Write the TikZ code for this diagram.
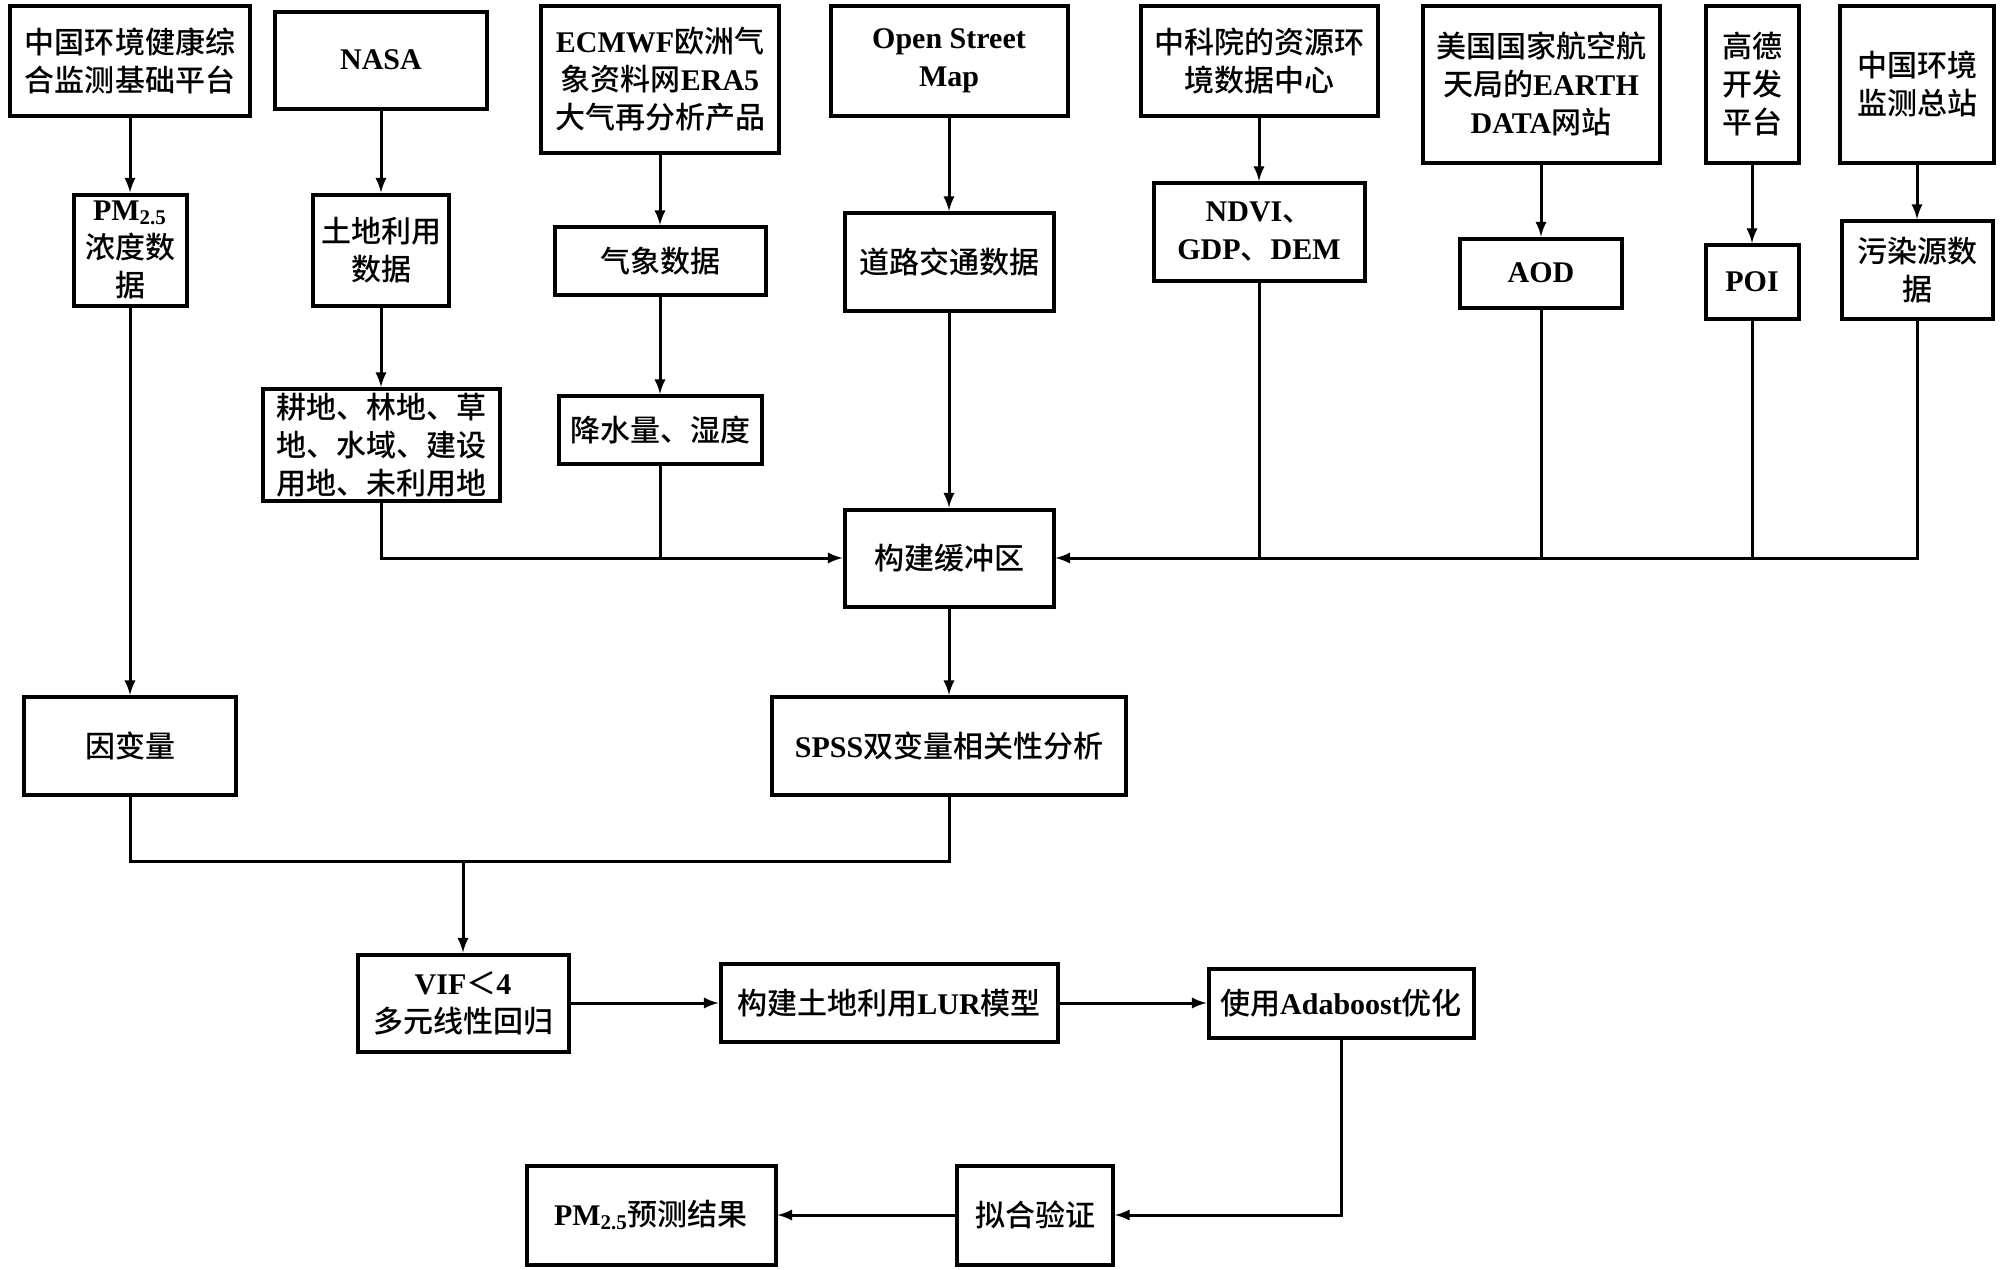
\documentclass[tikz,border=0pt]{standalone}
\usepackage{fontspec}
\setmainfont{Liberation Serif}
\newfontfamily\cjk{Noto Sans CJK SC Medium}
\newcommand\tm[1]{{\rmfamily\fontseries{bx}\selectfont #1}}
\usetikzlibrary{arrows, positioning}

\begin{document}
\begin{tikzpicture}[x=0.5pt, y=-0.5pt]
        \tikzstyle{box} = [rectangle, draw = black, line width = 2pt, align = center, inner sep = 0pt, font = \cjk\fontsize{15}{19}\selectfont]
        \tikzstyle{connect} = [-latex, line width = 1.5pt]
        \tikzstyle{line} = [line width = 1.5pt]
        \useasboundingbox (0,0) rectangle (2000,1269);
        % sources
        \node[box, minimum width = 120pt, minimum height = 55pt] (src1) at (130,61) {中国环境健康综\\合监测基础平台};
        \node[box, minimum width = 106pt, minimum height = 48.5pt] (nasa) at (381,60) {\tm{NASA}};
        \node[box, minimum width = 119pt, minimum height = 73.5pt] (ecmwf) at (660,79) {\tm{ECMWF}欧洲气\\象资料网\tm{ERA5}\\大气再分析产品};
        \node[box, minimum width = 118.5pt, minimum height = 55pt] (osm) at (949,61) {\tm{Open Street}\\\tm{Map}};
        \node[box, minimum width = 118.5pt, minimum height = 55pt] (cas) at (1259,61) {中科院的资源环\\境数据中心};
        \node[box, minimum width = 118.5pt, minimum height = 78.5pt] (earth) at (1541,84) {美国国家航空航\\天局的\tm{EARTH}\\\tm{DATA}网站};
        \node[box, minimum width = 46.5pt, minimum height = 78.5pt] (gaode) at (1752,84) {高德\\开发\\平台};
        \node[box, minimum width = 77pt, minimum height = 78.5pt] (cnemc) at (1917,84) {中国环境\\监测总站};
        % data
        \node[box, minimum width = 56.5pt, minimum height = 55.5pt] (pm) at (130,250) {\tm{PM\textsubscript{2.5}}\\浓度数\\据};
        \node[box, minimum width = 68pt, minimum height = 55.5pt] (land) at (381,250) {土地利用\\数据};
        \node[box, minimum width = 105.5pt, minimum height = 34pt] (met) at (660,261) {气象数据};
        \node[box, minimum width = 104.5pt, minimum height = 49pt] (road) at (949,262) {道路交通数据};
        \node[box, minimum width = 105.5pt, minimum height = 49pt] (ndvi) at (1259,232) {\tm{NDVI}、\\\tm{GDP}、\tm{DEM}};
        \node[box, minimum width = 81pt, minimum height = 34.5pt] (aod) at (1541,273) {\tm{AOD}};
        \node[box, minimum width = 46.5pt, minimum height = 37pt] (poi) at (1752,282) {\tm{POI}};
        \node[box, minimum width = 75.5pt, minimum height = 49pt] (pol) at (1917,270) {污染源数\\据};
        \node[box, minimum width = 118.5pt, minimum height = 56pt] (landtype) at (381,445) {耕地、林地、草\\地、水域、建设\\用地、未利用地};
        \node[box, minimum width = 101.5pt, minimum height = 34pt] (rain) at (660,430) {降水量、湿度};
        % analysis
        \node[box, minimum width = 104.5pt, minimum height = 48.5pt] (buffer) at (949,558) {构建缓冲区};
        \node[box, minimum width = 106pt, minimum height = 49pt] (dep) at (130,746) {因变量};
        \node[box, minimum width = 177pt, minimum height = 49pt] (spss) at (949,746) {\tm{SPSS}双变量相关性分析};
        \coordinate (merge) at (463,861);
        \node[box, minimum width = 105.5pt, minimum height = 48.5pt] (vif) at (463,1003) {\tm{VIF}＜\tm{4}\\多元线性回归};
        \node[box, minimum width = 168.5pt, minimum height = 39pt] (lur) at (889,1003) {构建土地利用\tm{LUR}模型};
        \node[box, minimum width = 132.5pt, minimum height = 34.5pt] (ada) at (1341,1003) {使用\tm{Adaboost}优化};
        \node[box, minimum width = 78pt, minimum height = 49.5pt] (fit) at (1035,1215) {拟合验证};
        \node[box, minimum width = 124.5pt, minimum height = 49.5pt] (pred) at (651,1215) {\tm{PM\textsubscript{2.5}}预测结果};
        % connectors
        \path (src1) edge [connect] (pm) (nasa) edge [connect] (land) (ecmwf) edge [connect] (met)
              (osm) edge [connect] (road) (cas) edge [connect] (ndvi) (earth) edge [connect] (aod)
              (gaode) edge [connect] (poi) (cnemc) edge [connect] (pol)
              (land) edge [connect] (landtype) (met) edge [connect] (rain) (road) edge [connect] (buffer)
              (pm) edge [connect] (dep) (buffer) edge [connect] (spss);
        \draw[connect] (landtype.south) |- (buffer.west);
        \draw[line] (rain.south) -- (rain.south |- buffer.west);
        \draw[connect] (pol.south) |- (buffer.east);
        \draw[line] (ndvi.south) -- (ndvi.south |- buffer.east);
        \draw[line] (aod.south) -- (aod.south |- buffer.east);
        \draw[line] (poi.south) -- (poi.south |- buffer.east);
        \draw[line] (dep.south) |- (merge) -| (spss.south);
        \draw[connect] (merge) -- (vif.north);
        \path (vif) edge [connect] (lur) (lur) edge [connect] (ada);
        \draw[connect] (ada.south) |- (fit.east);
        \draw[connect] (fit) -- (pred);
\end{tikzpicture}
\end{document}
